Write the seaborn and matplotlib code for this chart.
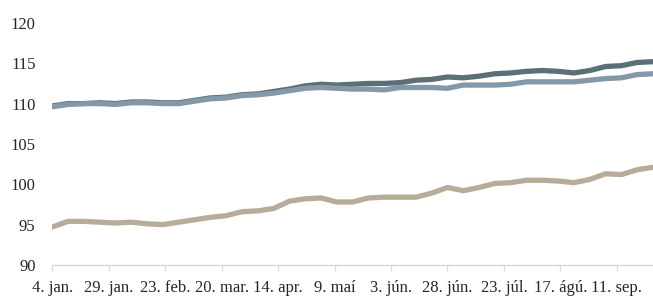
import pandas as pd
import numpy as np
import matplotlib
matplotlib.use("Agg")
import matplotlib.pyplot as plt
import seaborn as sns

# weekly readings from 4 jan to 27 sep
dates = pd.date_range("2019-01-04", periods=39, freq="7D")

series_dark = [109.7, 110.0, 110.0, 110.1, 110.0, 110.2, 110.2, 110.1, 110.1, 110.4,
               110.7, 110.8, 111.1, 111.2, 111.5, 111.8, 112.2, 112.4, 112.3, 112.4,
               112.5, 112.5, 112.6, 112.9, 113.0, 113.3, 113.2, 113.4, 113.7, 113.8,
               114.0, 114.1, 114.0, 113.8, 114.1, 114.6, 114.7, 115.1, 115.2]
series_light = [109.6, 109.9, 110.0, 110.0, 109.9, 110.1, 110.1, 110.0, 110.0, 110.3,
                110.6, 110.7, 111.0, 111.1, 111.3, 111.6, 111.9, 112.0, 111.9, 111.8,
                111.8, 111.7, 112.0, 112.0, 112.0, 111.9, 112.3, 112.3, 112.3, 112.4,
                112.7, 112.7, 112.7, 112.7, 112.9, 113.1, 113.2, 113.6, 113.7]
series_tan = [94.7, 95.4, 95.4, 95.3, 95.2, 95.3, 95.1, 95.0, 95.3, 95.6,
              95.9, 96.1, 96.6, 96.7, 97.0, 97.9, 98.2, 98.3, 97.8, 97.8,
              98.3, 98.4, 98.4, 98.4, 98.9, 99.6, 99.2, 99.6, 100.1, 100.2,
              100.5, 100.5, 100.4, 100.2, 100.6, 101.3, 101.2, 101.8, 102.1]

tick_dates = pd.date_range("2019-01-04", periods=11, freq="25D")
tick_labels = ["4. jan.", "29. jan.", "23. feb.", "20. mar.", "14. apr.", "9. maí",
               "3. jún.", "28. jún.", "23. júl.", "17. ágú.", "11. sep."]
y_ticks = [90, 95, 100, 105, 110, 115, 120]

sns.set_style("white")
plt.rcParams["font.family"] = ["Liberation Serif", "DejaVu Serif"]

fig = plt.figure(figsize=(6.53, 2.98), dpi=100)
ax = fig.add_axes([0.08, 0.111, 0.92, 0.812])

lw = 3.8
sns.lineplot(x=dates, y=series_dark, ax=ax, color="#5B6F77", lw=lw,
             solid_capstyle="round", solid_joinstyle="round")
sns.lineplot(x=dates, y=series_light, ax=ax, color="#8598A7", lw=lw,
             solid_capstyle="round", solid_joinstyle="round")
sns.lineplot(x=dates, y=series_tan, ax=ax, color="#B7AC9A", lw=lw,
             solid_capstyle="round", solid_joinstyle="round")

ax.set_xlim(dates[0], dates[-1])
ax.set_ylim(y_ticks[0], y_ticks[-1])
ax.set_yticks(y_ticks)
ax.set_xticks(tick_dates)
ax.set_xticklabels(tick_labels)

for side in ["top", "right", "left"]:
    ax.spines[side].set_visible(False)
ax.spines["bottom"].set_color("#D9D9D9")
ax.spines["bottom"].set_linewidth(1.0)

ax.tick_params(axis="x", length=4, width=1, color="#D9D9D9", pad=7,
               labelsize=12, labelcolor="#262626", bottom=True)
ax.tick_params(axis="y", length=0, pad=12, labelsize=12, labelcolor="#262626")
ax.set_xlabel("")
ax.set_ylabel("")
ax.grid(False)

fig.savefig("out.png", dpi=100)
